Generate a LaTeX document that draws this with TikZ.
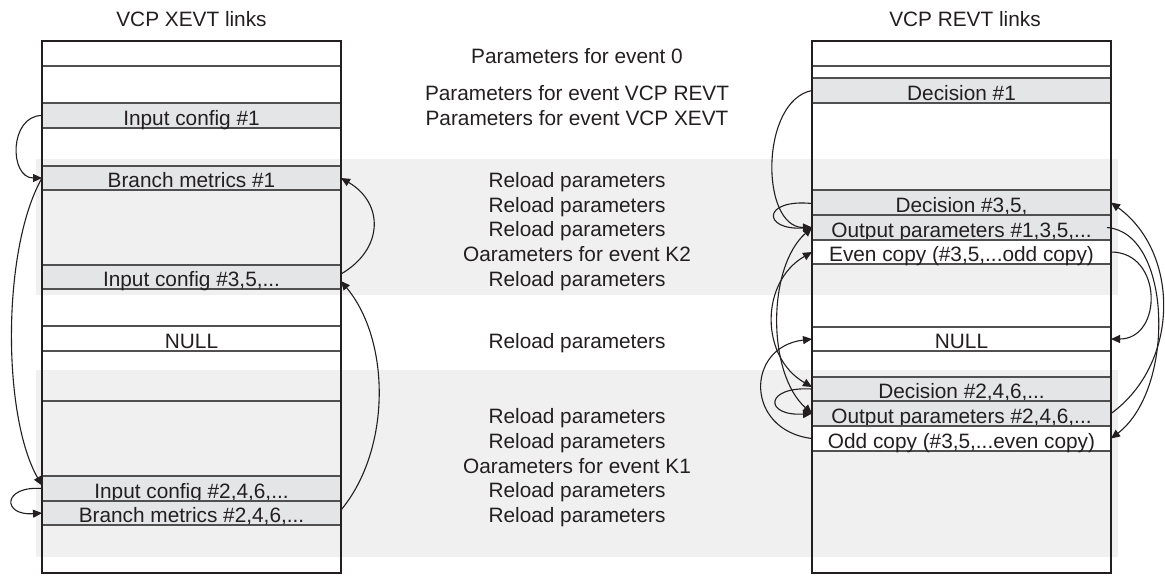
\documentclass[tikz,border=0pt]{standalone}
\usepackage{fontspec}
\setmainfont{Liberation Sans}
\usetikzlibrary{arrows.meta,calc}
\definecolor{txt}{HTML}{231F20}
\definecolor{bandc}{HTML}{F0F0F0}
\definecolor{rowgray}{HTML}{E4E5E7}
\definecolor{sepc}{HTML}{505050}
\begin{document}
\begin{tikzpicture}[x=0.5pt,y=-0.5pt,
  font=\fontsize{10.4}{12}\selectfont, text=txt,
  rowbox/.style={draw=sepc, line width=0.6pt, minimum width=149.5pt, inner sep=0pt, outer sep=0pt, text height=9.5pt, text depth=0pt, anchor=center},
  rowg/.style={rowbox, fill=rowgray},
  roww/.style={rowbox, fill=white},
  lbl/.style={anchor=base, inner sep=0pt},
  sepline/.style={draw=sepc, line width=0.6pt},
  boxline/.style={draw=txt, line width=1.3pt},
  link/.style={draw=txt, line width=0.55pt, -{Triangle[length=4.5pt,width=4pt]}},
  dlink/.style={draw=txt, line width=0.55pt, {Triangle[length=4.5pt,width=4pt]}-{Triangle[length=4.5pt,width=4pt]}},
]
\path[use as bounding box, fill=white] (0,0) rectangle (1165,575);

% background bands
\fill[bandc] (36,159) rectangle (1118,295);
\fill[bandc] (36,370) rectangle (1118,557);

% titles
\node[lbl] (tx) at (191.5,26) {VCP XEVT links};
\node[lbl] (tr) at (965,26) {VCP REVT links};

% middle column
\node[lbl] (m1) at (577,63) {Parameters for event 0};
\node[lbl] (m2) at (577,100) {Parameters for event VCP REVT};
\node[lbl] (m3) at (577,125) {Parameters for event VCP XEVT};
\node[lbl] (m4) at (577,187) {Reload parameters};
\node[lbl] (m5) at (577,212) {Reload parameters};
\node[lbl] (m6) at (577,236) {Reload parameters};
\node[lbl] (m7) at (577,261) {Oarameters for event K2};
\node[lbl] (m8) at (577,286) {Reload parameters};
\node[lbl] (m9) at (577,348) {Reload parameters};
\node[lbl] (m10) at (577,423) {Reload parameters};
\node[lbl] (m11) at (577,448) {Reload parameters};
\node[lbl] (m12) at (577,473) {Oarameters for event K1};
\node[lbl] (m13) at (577,497) {Reload parameters};
\node[lbl] (m14) at (577,522) {Reload parameters};

% left box rows
\node[rowg, minimum height=12.5pt] (ic1) at (191.5,115.5) {Input config \#1};
\node[rowg, minimum height=12pt] (bm1) at (191.5,178) {Branch metrics \#1};
\node[rowg, minimum height=12pt] (ic35) at (191.5,277) {Input config \#3,5,...};
\node[roww, minimum height=12.5pt] (nullL) at (191.5,338.5) {NULL};
\node[rowg, minimum height=12.5pt] (ic246) at (191.5,488.5) {Input config \#2,4,6,...};
\node[rowg, minimum height=12pt] (bm246) at (191.5,513) {Branch metrics \#2,4,6,...};
\draw[sepline] (42,66) -- (341,66);
\draw[sepline] (42,401) -- (341,401);

% right box rows
\node[rowg, minimum height=12.5pt] (d1) at (961.5,90.5) {Decision \#1};
\node[rowg, minimum height=12.5pt] (d35) at (961.5,202.5) {Decision \#3,5,};
\node[rowg, minimum height=12.5pt] (o135) at (961.5,227.5) {Output parameters \#1,3,5,...};
\node[roww, minimum height=12pt] (even) at (961.5,252) {Even copy (\#3,5,...odd copy)};
\node[roww, minimum height=12pt] (nullR) at (961.5,339) {NULL};
\node[rowg, minimum height=12pt] (d246) at (961.5,389) {Decision \#2,4,6,...};
\node[rowg, minimum height=12.5pt] (o246) at (961.5,413.5) {Output parameters \#2,4,6,...};
\node[roww, minimum height=12.5pt] (odd) at (961.5,438.5) {Odd copy (\#3,5,...even copy)};
\draw[sepline] (812,66) -- (1111,66);
\draw[sepline] (812,78) -- (1111,78);

% box outlines
\draw[boxline] (42,41) rectangle (341,573);
\draw[boxline] (812,41) rectangle (1111,573);

% left box links
\draw[link] (ic1.west) .. controls +(-33,0) and +(-33,0) .. (bm1.west);
\draw[link] (bm1.west) .. controls +(-40,70) and +(-40,-70) .. ($(ic246.west)+(0,-3)$);
\draw[link] (ic246.west) .. controls +(-40,-3) and +(-40,3) .. (bm246.west);
\draw[link] ($(ic35.east)+(0,-3)$) .. controls +(43,-25) and +(43,25) .. (bm1.east);
\draw[link] ($(bm246.east)+(0,-3)$) .. controls +(50,-60) and +(50,60) .. ($(ic35.east)+(0,4)$);

% right box links, left side
\draw[link] (d1.west) .. controls +(-52,10) and +(-52,0) .. (o135.west);
\draw[link] ($(d35.west)+(0,1)$) .. controls +(-50,-5) and +(-50,3) .. (o135.west);
\draw[dlink] (o135.west) .. controls +(-45,40) and +(-45,-40) .. (o246.west);
\draw[dlink] (even.west) .. controls +(-52,30) and +(-52,-30) .. ($(d246.west)+(0,-2)$);
\draw[link] (odd.west) .. controls +(-67,-8) and +(-67,8) .. (nullR.west);
\draw[link] (d246.west) .. controls +(-48,-3) and +(-48,3) .. (o246.west);

% right box links, right side
\draw[link] (o246.east) .. controls +(69,-50) and +(69,50) .. (d35.east);
\draw[link] ($(o135.east)+(-4,0)$) .. controls +(65,5) and +(65,-50) .. (odd.east);
\draw[link] (even.east) .. controls +(52,0) and +(52,0) .. (nullR.east);
\end{tikzpicture}
\end{document}
